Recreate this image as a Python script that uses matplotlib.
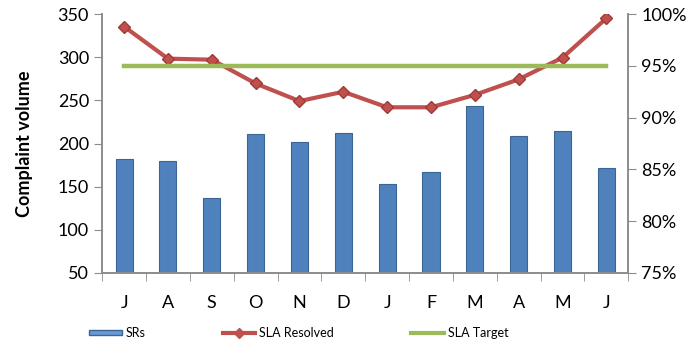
import matplotlib.pyplot as plt
from matplotlib.ticker import FuncFormatter
from matplotlib.patches import Patch
from matplotlib.lines import Line2D

months = ["J", "A", "S", "O", "N", "D", "J", "F", "M", "A", "M", "J"]
srs = [182, 180, 137, 211, 202, 212, 153, 167, 243, 209, 215, 172]
sla_resolved = [98.8, 95.7, 95.6, 93.3, 91.6, 92.5, 91.0, 91.0, 92.2, 93.7, 95.8, 99.6]
sla_target = [95.0] * len(months)

blue = "#4F81BD"
red = "#C0504D"
green = "#9BBB59"
grey = "#8C8C8C"

plt.rcParams["font.family"] = "Lato"

fig = plt.figure(figsize=(6.95, 3.45), dpi=100)
ax = fig.add_axes([0.147, 0.209, 0.757, 0.750])
x = list(range(len(months)))

ax.bar(x, [v - 50 for v in srs], bottom=50, width=0.39, color=blue,
       edgecolor="#3A6595", linewidth=0.8, zorder=2)
ax.set_ylim(50, 350)
ax.set_xlim(-0.5, len(months) - 0.5)
ax.set_yticks(range(50, 351, 50))
ax.set_xticks(x)
ax.set_xticklabels(months, fontsize=13)
ax.set_xticks([i + 0.5 for i in range(-1, len(months))], minor=True)
ax.tick_params(axis="x", which="major", length=0, pad=16)
ax.tick_params(axis="x", which="minor", length=6, color=grey, direction="out")
ax.tick_params(axis="y", labelsize=13, length=6, color=grey, direction="out")
ax.set_ylabel("Complaint volume", fontsize=13, fontweight="bold", labelpad=18)

ax2 = ax.twinx()
ax2.plot(x, sla_resolved, color=red, lw=3, marker="D", markersize=6,
         markerfacecolor=red, markeredgecolor="#A03A37", zorder=3)
ax2.plot(x, sla_target, color=green, lw=3.2, zorder=4)
ax2.set_ylim(75, 100)
ax2.set_yticks(range(75, 101, 5))
ax2.yaxis.set_major_formatter(FuncFormatter(lambda v, p: f"{v:.0f}%"))
ax2.tick_params(axis="y", labelsize=13, length=6, color=grey, direction="out")

for a in (ax, ax2):
    a.spines["top"].set_visible(False)
    for s in ("left", "right", "bottom"):
        a.spines[s].set_color(grey)
        a.spines[s].set_linewidth(1.2)

handles = [
    Patch(facecolor="#6A9AD4", edgecolor="#3A6595"),
    Line2D([], [], color=red, lw=3, marker="D", markersize=5),
    Line2D([], [], color=green, lw=3),
]
fig.legend(handles, ["SRs", "SLA Resolved", "SLA Target"], loc="center left",
           bbox_to_anchor=(78 / 695, 1 - 333 / 345), ncol=3, frameon=False,
           fontsize=9, handlelength=2.6, handleheight=0.35, columnspacing=6.2,
           handletextpad=0.3)

fig.savefig("out.png", dpi=100)
